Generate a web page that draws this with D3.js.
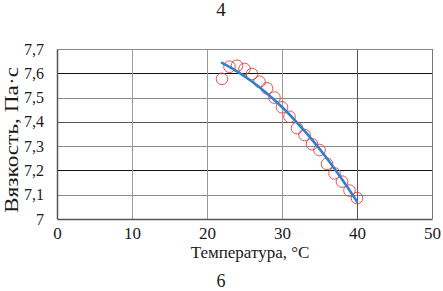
<!DOCTYPE html>
<html>
<head>
<meta charset="utf-8">
<script src="https://cdn.jsdelivr.net/npm/d3@7"></script>
<style>
  html, body { margin: 0; padding: 0; background: #fff; }
  svg { display: block; }
</style>
</head>
<body>
<svg id="chart" width="443" height="291"></svg>
<script>
// ---- data ----
const temperature = [22, 23, 24, 25, 26, 27, 28, 29, 30, 31, 32, 33, 34, 35, 36, 37, 38, 39, 40];
const viscosity = [7.577, 7.627, 7.631, 7.618, 7.597, 7.565, 7.538, 7.500, 7.460, 7.421,
                   7.374, 7.346, 7.308, 7.284, 7.227, 7.188, 7.154, 7.117, 7.086];
const trendTemperature = [22, 24, 26, 28, 30, 32, 34, 36, 38, 40];
const trendViscosity = [7.643, 7.608, 7.566, 7.517, 7.461, 7.397, 7.327, 7.249, 7.164, 7.072];
const xTicks = [0, 10, 20, 30, 40, 50];
const yTicks = [7.0, 7.1, 7.2, 7.3, 7.4, 7.5, 7.6, 7.7];
const xTitle = "Температура, °C";
const yTitle = "Вязкость, Па·с";
const topLabel = "4";
const bottomLabel = "6";

// ---- layout ----
const W = 443, H = 291;
const m = { left: 57, right: 11, top: 49, bottom: 72 };
const pw = W - m.left - m.right, ph = H - m.top - m.bottom;
const serif = "Liberation Serif, Times New Roman, DejaVu Serif, serif";

const svg = d3.select("#chart");
const g = svg.append("g").attr("transform", `translate(${m.left},${m.top})`);

const x = d3.scaleLinear().domain([0, 50]).range([0, pw]);
const y = d3.scaleLinear().domain([7.0, 7.7]).range([ph, 0]);

const fmtY = v => (Math.abs(v - 7) < 1e-9 ? "7" : d3.format(".1f")(v).replace(".", ","));

// gridlines
const darkH = v => Math.abs(v - 7.6) < 1e-9 || Math.abs(v - 7.2) < 1e-9;
g.append("g").selectAll("line.h")
  .data(yTicks.filter(v => v > 7.0 && v < 7.7))
  .join("line")
  .attr("x1", 0).attr("x2", pw)
  .attr("y1", d => Math.round(y(d)) + 0.5).attr("y2", d => Math.round(y(d)) + 0.5)
  .attr("stroke", d => darkH(d) ? "#111" : (Math.abs(d - 7.4) < 1e-9 ? "#555" : "#8a8a8a"))
  .attr("stroke-width", 1);

g.append("g").selectAll("line.v")
  .data(xTicks.filter(v => v > 0 && v < 50))
  .join("line")
  .attr("y1", 0).attr("y2", ph)
  .attr("x1", d => Math.round(x(d)) + 0.5).attr("x2", d => Math.round(x(d)) + 0.5)
  .attr("stroke", d => d === 40 ? "#555" : "#9a9a9a")
  .attr("stroke-width", 1);

// frame
g.append("line").attr("x1", 0).attr("x2", pw).attr("y1", 0.5).attr("y2", 0.5).attr("stroke", "#8a8a8a");
g.append("line").attr("x1", pw + 0.5).attr("x2", pw + 0.5).attr("y1", 0).attr("y2", ph).attr("stroke", "#777");

// axes
const xAxis = g.append("g").attr("transform", `translate(0,${ph})`)
  .call(d3.axisBottom(x).tickValues(xTicks).tickSize(0).tickPadding(8).tickFormat(d3.format("d")));
xAxis.select(".domain").attr("stroke", "#555").attr("stroke-width", 1.5);
xAxis.selectAll("text").attr("font-family", serif).attr("font-size", 17).attr("fill", "#1a1a1a");

const yAxis = g.append("g")
  .call(d3.axisLeft(y).tickValues(yTicks).tickSize(0).tickPadding(13).tickFormat(fmtY));
yAxis.select(".domain").attr("stroke", "#555").attr("stroke-width", 1.5);
yAxis.selectAll("text").attr("font-family", serif).attr("font-size", 16).attr("fill", "#1a1a1a");

// markers
g.append("g").selectAll("circle")
  .data(temperature.map((t, i) => [t, viscosity[i]]))
  .join("circle")
  .attr("cx", d => x(d[0])).attr("cy", d => y(d[1]))
  .attr("r", 5.8)
  .attr("fill", "none")
  .attr("stroke", "#e0403a")
  .attr("stroke-width", 0.9);

// trend line
const line = d3.line().x(d => x(d[0])).y(d => y(d[1])).curve(d3.curveMonotoneX);
g.append("path")
  .datum(trendTemperature.map((t, i) => [t, trendViscosity[i]]))
  .attr("d", line)
  .attr("fill", "none")
  .attr("stroke", "#2f80cf")
  .attr("stroke-width", 2.6)
  .attr("stroke-linecap", "round");

// titles
const txt = (sel) => sel.attr("font-family", serif).attr("fill", "#1a1a1a").attr("text-anchor", "middle");
svg.append("text").call(txt).attr("x", 250).attr("y", 258).attr("font-size", 17).text(xTitle);
svg.append("text").call(txt).attr("transform", `translate(18,140) rotate(-90)`)
  .attr("font-size", 18).attr("textLength", 146).attr("lengthAdjust", "spacingAndGlyphs").text(yTitle);
svg.append("text").call(txt).attr("x", 221).attr("y", 16).attr("font-size", 19).text(topLabel);
svg.append("text").call(txt).attr("x", 221).attr("y", 287).attr("font-size", 18).text(bottomLabel);
</script>
</body>
</html>
